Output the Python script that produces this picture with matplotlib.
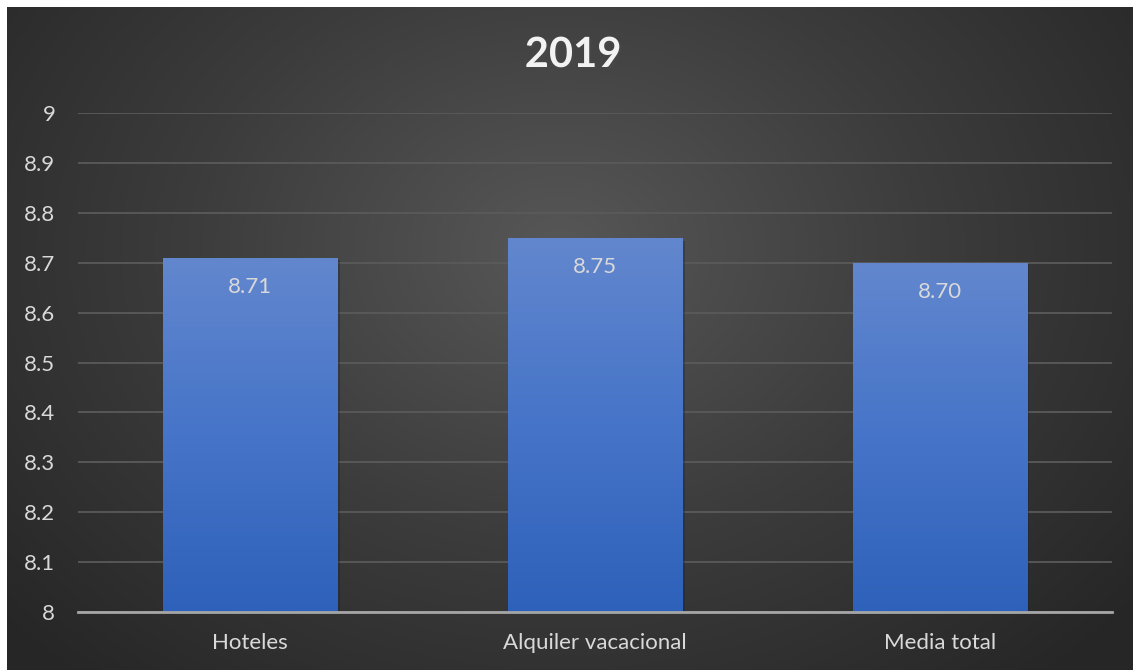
import numpy as np
import matplotlib.pyplot as plt
import matplotlib.patheffects as pe
from matplotlib.colors import LinearSegmentedColormap
from matplotlib.ticker import FuncFormatter

plt.rcParams['font.family'] = ['Lato', 'DejaVu Sans']

categories = ['Hoteles', 'Alquiler vacacional', 'Media total']
values = [8.71, 8.75, 8.70]
labels = ['8.71', '8.75', '8.70']
title = '2019'

W, H = 1133, 670
fig = plt.figure(figsize=(W / 100, H / 100), dpi=100)
fig.patch.set_facecolor('white')

# dark radial background (chart area starts a few px in from the top/left)
bg = fig.add_axes([7 / W, 0, 1 - 7 / W, 1 - 7 / H], zorder=-10)
bg.set_axis_off()
yy, xx = np.mgrid[0:300, 0:500]
cx, cy = 245, 110
r = np.sqrt(((xx - cx) / 330.0) ** 2 + ((yy - cy) / 260.0) ** 2)
r = np.clip(r, 0, 1)
bg_cmap = LinearSegmentedColormap.from_list('bg', ['#575757', '#3c3c3c', '#262626'])
bg.imshow(r, cmap=bg_cmap, aspect='auto', extent=[0, 1, 0, 1], origin='upper')
bg.set_xlim(0, 1)
bg.set_ylim(0, 1)

ax = fig.add_axes([77.5 / W, 1 - 612 / H, (1112 - 77.5) / W, (612 - 113) / H])
ax.patch.set_alpha(0)
x = np.arange(len(categories))
bars = ax.bar(x, values, width=0.505, color='#4472c4', zorder=3,
              path_effects=[pe.SimplePatchShadow(offset=(2, -2), alpha=0.35), pe.Normal()])

ax.set_yticks(np.arange(8, 9.01, 0.1))
ax.yaxis.set_major_formatter(FuncFormatter(lambda v, p: '%g' % round(v, 1)))
ax.set_xticks(x)
ax.set_xticklabels(categories)

# vertical gradient inside each bar
bar_cmap = LinearSegmentedColormap.from_list('bar', ['#2e61ba', '#4674c8', '#6287ce'])
grad = np.linspace(0, 1, 256).reshape(-1, 1)
for b in bars:
    x0, w, h = b.get_x(), b.get_width(), b.get_height()
    im = ax.imshow(grad, cmap=bar_cmap, aspect='auto', origin='lower',
                   extent=[x0, x0 + w, 8, b.get_y() + h], zorder=4)
    im.set_clip_path(b)
ax.set_xlim(-0.5, len(categories) - 0.5)
ax.set_ylim(8, 9)

for xi, v, lab in zip(x, values, labels):
    ax.annotate(lab, (xi, v), xytext=(0, -21), textcoords='offset points',
                ha='center', va='center', color='#d9d9d9', fontsize=16, zorder=6)

ax.grid(axis='y', color='#5a5a5a', lw=1.3, zorder=0)
for s in ['top', 'right', 'left']:
    ax.spines[s].set_visible(False)
ax.spines['bottom'].set_color('#a6a6a6')
ax.spines['bottom'].set_linewidth(2)
ax.spines['bottom'].set_zorder(5)
ax.tick_params(axis='y', length=0, pad=16, labelsize=16, labelcolor='#d9d9d9')
ax.tick_params(axis='x', length=0, pad=15, labelsize=16, labelcolor='#d9d9d9')

fig.text(573 / W, 1 - 55 / H, title, ha='center', va='center', fontsize=30,
         fontweight='bold', color='#f2f2f2',
         path_effects=[pe.withSimplePatchShadow(offset=(1.5, -1.5), alpha=0.6)])

fig.savefig('out.png', dpi=100)
